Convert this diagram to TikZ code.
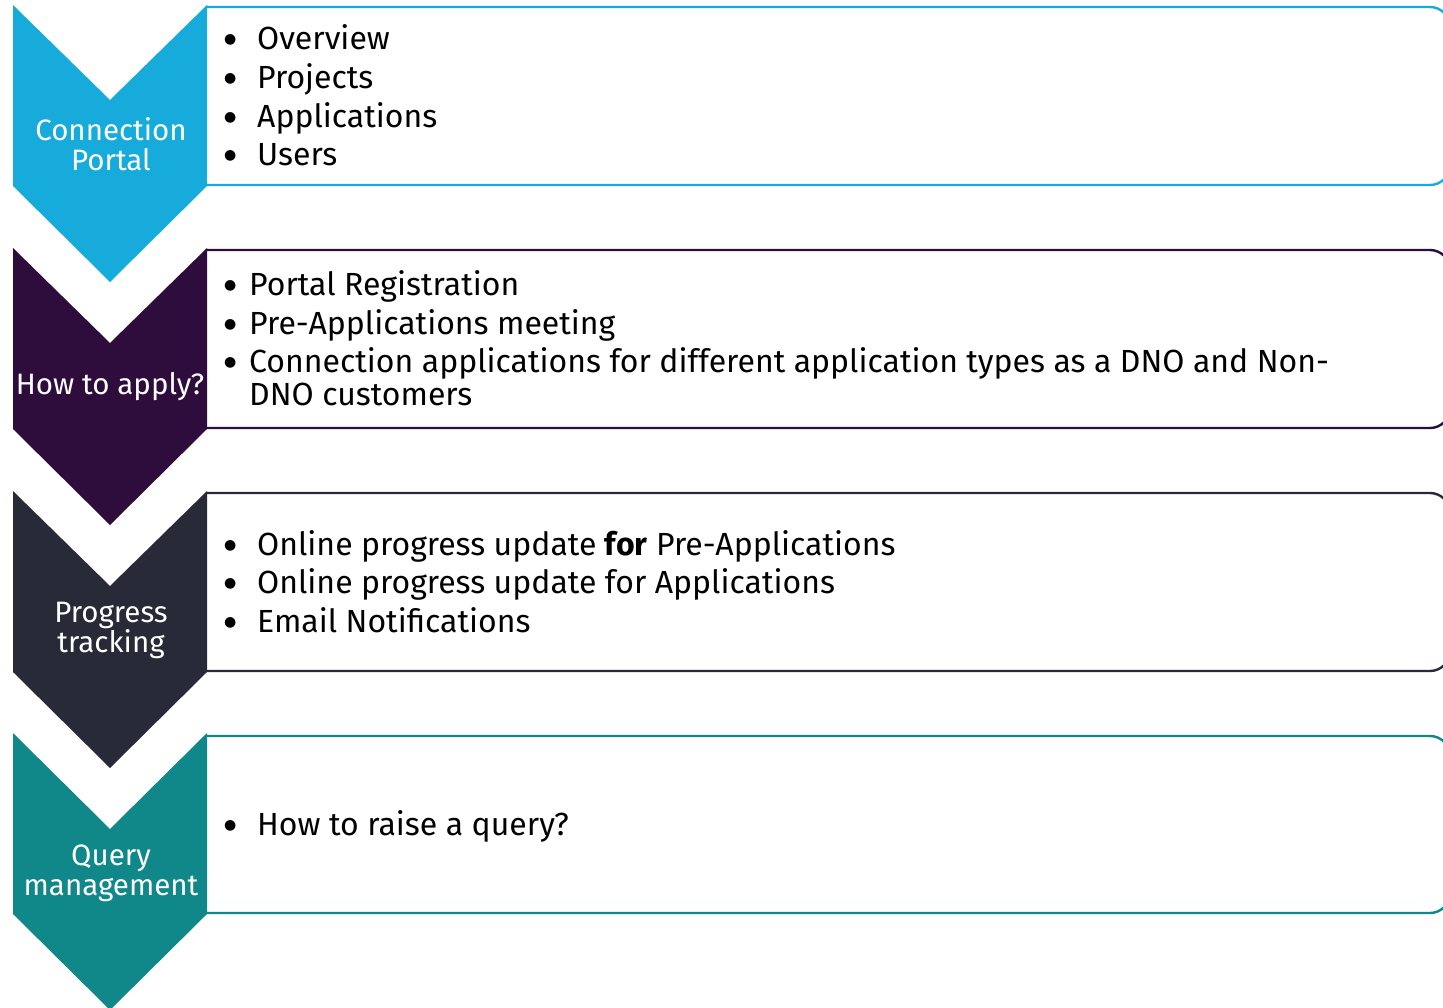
\documentclass[tikz,border=0pt]{standalone}
\usepackage{fontspec}
\setmainfont{Fira Sans}
\newfontfamily\symfont{DejaVu Sans}
\usepackage{xcolor}
\usetikzlibrary{positioning}
\definecolor{portalblue}{RGB}{23,171,219}
\definecolor{applypurple}{RGB}{46,13,60}
\definecolor{trackslate}{RGB}{41,42,55}
\definecolor{queryteal}{RGB}{16,135,137}
\newcommand{\bul}[1]{\makebox[#1][l]{\raisebox{6pt}{\symfont\fontsize{14}{14}\selectfont ●}}}
\tikzset{
  chevron/.style={
    fill=#1,
    draw=none
  },
  panel/.style={
    draw=#1,
    line width=2.4pt,
    rounded corners=20pt
  },
  steplabel/.style={
    text=white,
    align=center,
    inner sep=0pt,
    font=\fontsize{29.5}{30}\selectfont
  },
  itemlist/.style={
    anchor=west,
    align=left,
    inner sep=0pt,
    text=black,
    font=\fontsize{32}{38.6}\selectfont
  }
}

\begin{document}
\begin{tikzpicture}[x=1pt, y=-1pt]

  \useasboundingbox (0,0) rectangle (1443,1007);
  \clip (0,0) rectangle (1443,1007);

  % Connection portal
  \draw[panel=portalblue] (207,7) -- (1450,7) -- (1450,185) -- (207,185);
  \fill[chevron=portalblue] (13,5) -- (110,100) -- (207,5) -- (207,186) -- (110,282) -- (13,186) -- cycle;
  \node[steplabel] (portal) at (111,144) {Connection\\Portal};
  \node[itemlist] (portal items) at (224,95.5)
    {\bul{33pt}Overview\\ \bul{33pt}Projects\\ \bul{33pt}Applications\\ \bul{33pt}Users};

  % How to apply
  \draw[panel=applypurple] (207,250) -- (1450,250) -- (1450,428) -- (207,428);
  \fill[chevron=applypurple] (13,248) -- (110,343) -- (207,248) -- (207,429) -- (110,525) -- (13,429) -- cycle;
  \node[steplabel] (apply) at (110,387) {How to apply?};
  \node[itemlist] (apply items) at (224,338.5)
    {\bul{25pt}Portal Registration\\
     \bul{25pt}Pre-Applications meeting\\
     \bul{25pt}Connection applications for different application types as a DNO and Non-\\[-5.6pt]
     \hspace*{25pt}DNO customers};

  % Progress tracking
  \draw[panel=trackslate] (207,493) -- (1450,493) -- (1450,671) -- (207,671);
  \fill[chevron=trackslate] (13,491) -- (110,586) -- (207,491) -- (207,672) -- (110,768) -- (13,672) -- cycle;
  \node[steplabel] (track) at (111,630) {Progress\\tracking};
  \node[itemlist] (track items) at (224,581.5)
    {\bul{33pt}Online progress update \textbf{for} Pre-Applications\\
     \bul{33pt}Online progress update for Applications\\
     \bul{33pt}Email Notifications};

  % Query management
  \draw[panel=queryteal] (207,736) -- (1450,736) -- (1450,913) -- (207,913);
  \fill[chevron=queryteal] (13,733) -- (110,829) -- (207,733) -- (207,914) -- (110,1010) -- (13,914) -- cycle;
  \node[steplabel] (query) at (111,873) {Query\\management};
  \node[itemlist] (query items) at (224,826.5) {\bul{33pt}How to raise a query?};

\end{tikzpicture}
\end{document}
